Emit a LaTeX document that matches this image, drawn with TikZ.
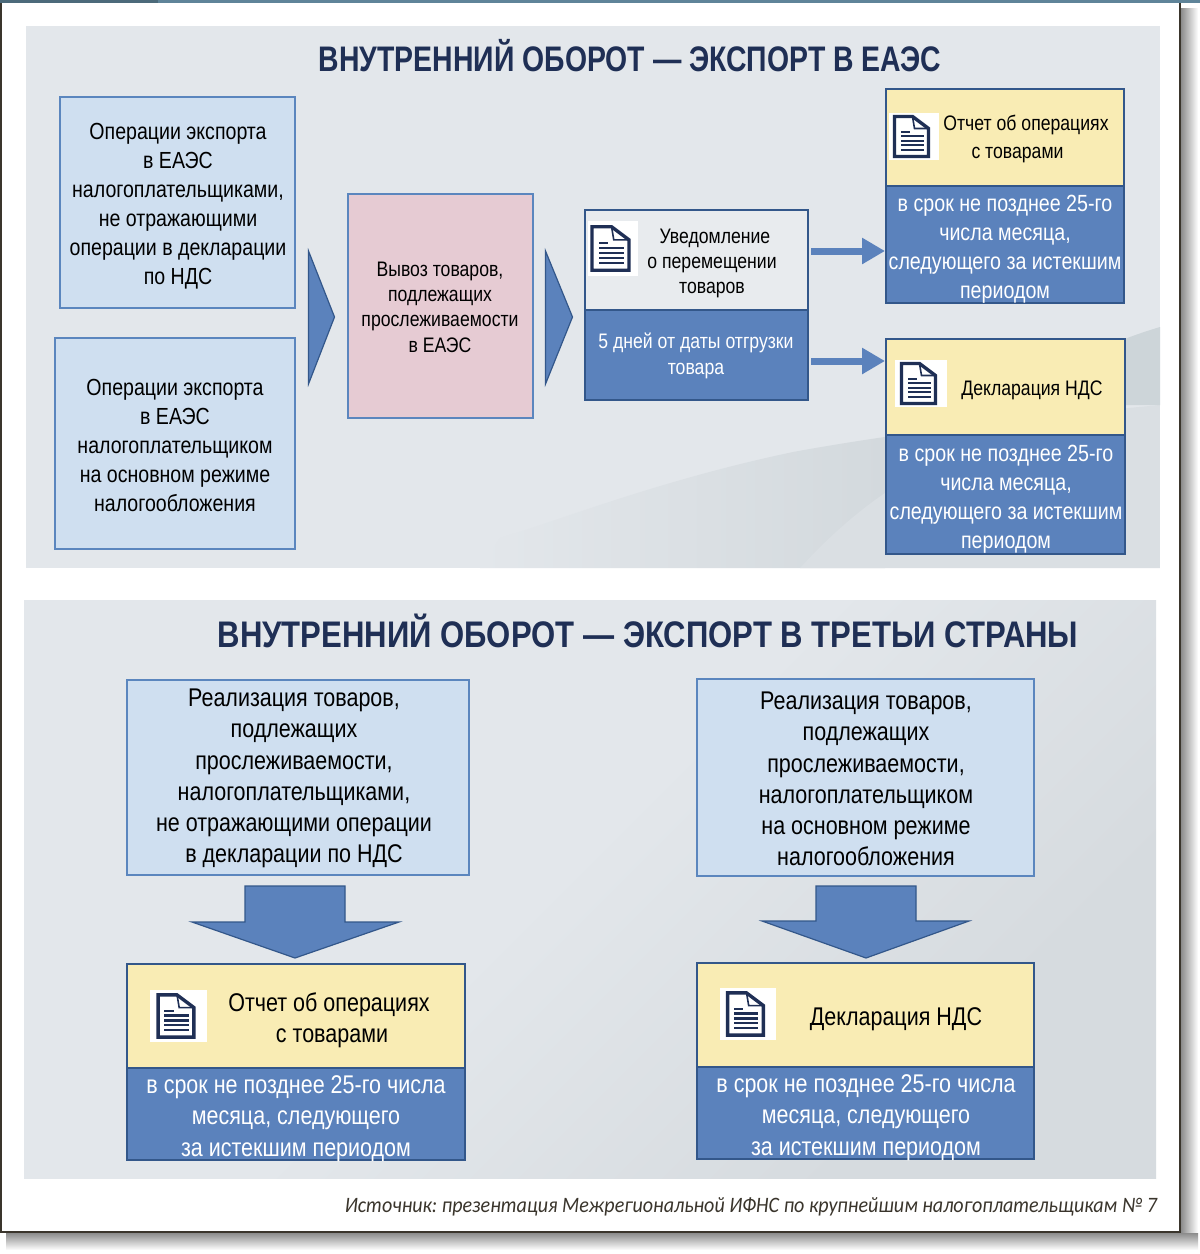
\documentclass[tikz,border=0pt]{standalone}
\usepackage{fontspec}
\setmainfont[FakeStretch=0.84]{Liberation Sans}
\newfontfamily\srcfont[FakeStretch=0.912]{Carlito}
\newfontfamily\titlefontA[FakeStretch=0.8]{Liberation Sans}
\newfontfamily\titlefontB[FakeStretch=0.84]{Liberation Sans}
\usetikzlibrary{arrows.meta}
\definecolor{panelbg}{HTML}{E3E7EB}
\definecolor{panellow}{HTML}{D6DBDF}
\definecolor{swooshA}{HTML}{D3D9DD}
\definecolor{swooshB}{HTML}{CDD5D9}
\definecolor{bluefill}{HTML}{5B82BC}
\definecolor{blueedge}{HTML}{33578A}
\definecolor{lightfill}{HTML}{CFDFF0}
\definecolor{lightedge}{HTML}{5B86BE}
\definecolor{pinkfill}{HTML}{E6CBD3}
\definecolor{yellowfill}{HTML}{F9ECB4}
\definecolor{paleboxfill}{HTML}{E8EBEE}
\definecolor{navy}{HTML}{1F2F55}
\definecolor{topbar}{HTML}{5F8499}
\definecolor{frameline}{HTML}{3A352C}
\pgfdeclareverticalshading{panelfade}{100bp}{color(0bp)=(panellow); color(28bp)=(panellow); color(52bp)=(panelbg); color(100bp)=(panelbg)}
\tikzset{
  x=1pt,y=-1pt,
  every node/.style={inner sep=0pt,outer sep=0pt},
  lightbox/.style={draw=lightedge,fill=lightfill,line width=2.6pt},
  pinkbox/.style={draw=lightedge,fill=pinkfill,line width=2.6pt},
  bluebox/.style={draw=blueedge,fill=bluefill,line width=2.6pt},
  yellowbox/.style={draw=blueedge,fill=yellowfill,line width=2.6pt},
  palebox/.style={draw=blueedge,fill=paleboxfill,line width=2.6pt},
  blockarrow/.style={draw=blueedge,fill=bluefill,line width=1.2pt,line join=miter},
  thinarrow/.style={draw=bluefill,line width=7pt,-{Triangle[length=23pt,width=25pt,fill=bluefill]}},
  docpage/.style={draw=navy,fill=white,line width=3.4pt,line join=miter},
  titleA/.style={font=\titlefontA\bfseries\fontsize{35.5}{40}\selectfont,text=navy,anchor=center},
  titleB/.style={font=\titlefontB\bfseries\fontsize{37}{40}\selectfont,text=navy,anchor=center},
  bigtxt/.style={align=center,font=\fontsize{25.6}{31.3}\selectfont,text=black},
  bigwhite/.style={align=center,font=\fontsize{25.6}{31.3}\selectfont,text=white},
  midtxt/.style={align=center,font=\fontsize{23.3}{29}\selectfont,text=black},
  midwhite/.style={align=center,font=\fontsize{23.4}{29}\selectfont,text=white},
  smalltxt/.style={align=center,font=\fontsize{21}{25.3}\selectfont,text=black},
  smallwhite/.style={align=center,font=\fontsize{21}{26}\selectfont,text=white},
}
\newcommand{\boxat}[6]{\node[#1,minimum width={#5-#3},minimum height={#6-#4}] (#2) at ({(#3+#5)/2},{(#4+#6)/2}) {};}
% white square with a page icon: name x1 y1 x2 y2
\newcommand{\docicon}[5]{%
  \node[fill=white,minimum width={#4-#2},minimum height={#5-#3}] (#1) at ({(#2+#4)/2},{(#3+#5)/2}) {};
  \begin{scope}[shift={({(#2+#4)/2-2.5},{(#3+#5)/2})},scale={(#5-#3+45)/92}]
    \draw[docpage] (-17,-20) -- (1,-20) -- (17,-8) -- (17,20) -- (-17,20) -- cycle;
    \draw[navy,line width=1.6pt] (1,-20) -- (3,-8) -- (17,-8);
    \fill[navy] (-11,-6) rectangle (-2,-3.8);
    \foreach \yy in {-1.5,3,7.5,12} {\fill[navy] (-11,\yy) rectangle (12,\yy+2.4);}
  \end{scope}}
\begin{document}
\frenchspacing
\begin{tikzpicture}
\useasboundingbox (0,0) rectangle (1200,1254);
\fill[white] (0,0) rectangle (1200,1254);
% page shadow
\shade[left color=black!45,right color=white] (1181,8) rectangle (1198,1234);
\shade[top color=black!45,bottom color=white] (6,1233) rectangle (1198,1250);
% page frame
\fill[white] (1,3) rectangle (1180,1232);
\draw[frameline,line width=1.2pt] (1,3) -- (1,1232) -- (1180,1232) -- (1180,3);
\fill[topbar] (0,0) rectangle (1200,3);
\fill[topbar!80!black] (0,0) rectangle (158,3);
% panel 1
\fill[panelbg] (26,26) rectangle (1160,568);
\begin{scope}
  \clip (500,538) .. controls (560,520) and (660,480) .. (793,452) .. controls (880,436) and (1000,420) .. (1160,405) -- (1160,568) -- (480,568) -- cycle;
  \shade[left color=panelbg,right color=swooshA] (480,400) rectangle (885,568);
  \fill[panellow!70!panelbg] (800,568) .. controls (830,535) and (860,510) .. (885,493) -- (885,400) -- (1160,400) -- (1160,568) -- cycle;
\end{scope}
\fill[swooshB] (1100,350) .. controls (1120,340) and (1140,333) .. (1160,327) -- (1160,405) -- (1060,405) -- cycle;
% panel 2
\shade[shading=panelfade,shading angle=45] (24,600) rectangle (1156,1178);
\node[titleA] (t1) at (630,56) {ВНУТРЕННИЙ ОБОРОТ — ЭКСПОРТ В ЕАЭС};
\node[titleB] (t2) at (648,631) {ВНУТРЕННИЙ ОБОРОТ — ЭКСПОРТ В ТРЕТЬИ СТРАНЫ};
% top row: source boxes
\boxat{lightbox}{srcA}{60}{97}{295}{308}
\node[midtxt] (srcAt) at (178,206.5) {Операции экспорта\\в ЕАЭС\\налогоплательщиками,\\не отражающими\\операции в декларации\\по НДС};
\boxat{lightbox}{srcB}{55}{338}{295}{549}
\node[midtxt] (srcBt) at (175,445) {Операции экспорта\\в ЕАЭС\\налогоплательщиком\\на основном режиме\\налогообложения};
\draw[blockarrow] (308.5,251) -- (334.5,317) -- (308.5,384) -- cycle;
\boxat{pinkbox}{pink}{348}{194}{533}{418}
\node[smalltxt] (pinkt) at (440,307) {Вывоз товаров,\\подлежащих\\прослеживаемости\\в ЕАЭС};
\draw[blockarrow] (545.5,251) -- (572.5,317) -- (545.5,384) -- cycle;
% notification
\boxat{palebox}{notA}{585}{210}{808}{310}
\boxat{bluebox}{notB}{585}{310}{808}{400}
\docicon{icoN}{588}{221}{638}{276}
\node[smalltxt] (notAt) at (712,263.5) {\hspace*{6pt}Уведомление\\о перемещении\\товаров};
\node[smallwhite] (notBt) at (696,356) {5 дней от даты отгрузки\\товара};
% report
\boxat{yellowbox}{repA}{886}{89}{1124}{186}
\boxat{bluebox}{repB}{886}{186}{1124}{303}
\docicon{icoR}{889}{113}{939}{160}
\node[smalltxt] (repAt) at (1026,139) {Отчет об операциях\\[3.5pt]с товарами\hspace*{17pt}};
\node[midwhite] (repBt) at (1005,249) {в срок не позднее 25-го\\числа месяца,\\следующего за истекшим\\периодом};
% declaration
\boxat{yellowbox}{decA}{886}{339}{1125}{435}
\boxat{bluebox}{decB}{886}{435}{1125}{554}
\docicon{icoD}{895}{360}{947}{407}
\node[smalltxt] (decAt) at (1032,390) {Декларация НДС};
\node[midwhite] (decBt) at (1006,499) {в срок не позднее 25-го\\числа месяца,\\следующего за истекшим\\периодом};
% thin arrows
\coordinate (fromR) at (811,251);
\coordinate (toR) at (885,251);
\coordinate (fromD) at (811,361);
\coordinate (toD) at (885,361);
\draw[thinarrow] (fromR) -- (toR);
\draw[thinarrow] (fromD) -- (toD);
% lower left
\boxat{lightbox}{lowA}{127}{680}{469}{875}
\node[bigtxt] (lowAt) at (294,778.5) {Реализация товаров,\\подлежащих\\прослеживаемости,\\налогоплательщиками,\\не отражающими операции\\в декларации по НДС};
\draw[blockarrow] (245,886) -- (345,886) -- (345,922) -- (399,922) -- (295,958) -- (192,922) -- (245,922) -- cycle;
\boxat{yellowbox}{lowB}{127}{964}{465}{1068}
\boxat{bluebox}{lowC}{127}{1068}{465}{1160}
\docicon{icoL}{150}{990}{207}{1042}
\node[bigtxt] (lowBt) at (329,1020) {Отчет об операциях\\\hspace*{6pt}с товарами};
\node[bigwhite] (lowCt) at (296,1118.5) {в срок не позднее 25-го числа\\месяца, следующего\\за истекшим периодом};
% lower right
\boxat{lightbox}{rigA}{697}{679}{1034}{876}
\node[bigtxt] (rigAt) at (866,779) {Реализация товаров,\\подлежащих\\прослеживаемости,\\налогоплательщиком\\на основном режиме\\налогообложения};
\draw[blockarrow] (816,886) -- (916,886) -- (916,921) -- (969,921) -- (866,958) -- (762,921) -- (816,921) -- cycle;
\boxat{yellowbox}{rigB}{697}{963}{1034}{1067}
\boxat{bluebox}{rigC}{697}{1067}{1034}{1159}
\docicon{icoQ}{720}{988}{776}{1040}
\node[bigtxt] (rigBt) at (896,1019) {Декларация НДС};
\node[bigwhite] (rigCt) at (866,1117.5) {в срок не позднее 25-го числа\\месяца, следующего\\за истекшим периодом};
% source
\node[font=\srcfont\itshape\fontsize{22}{26}\selectfont,anchor=east,text=frameline] (src) at (1157,1207) {Источник: презентация Межрегиональной ИФНС по крупнейшим налогоплательщикам № 7};
\end{tikzpicture}
\end{document}
